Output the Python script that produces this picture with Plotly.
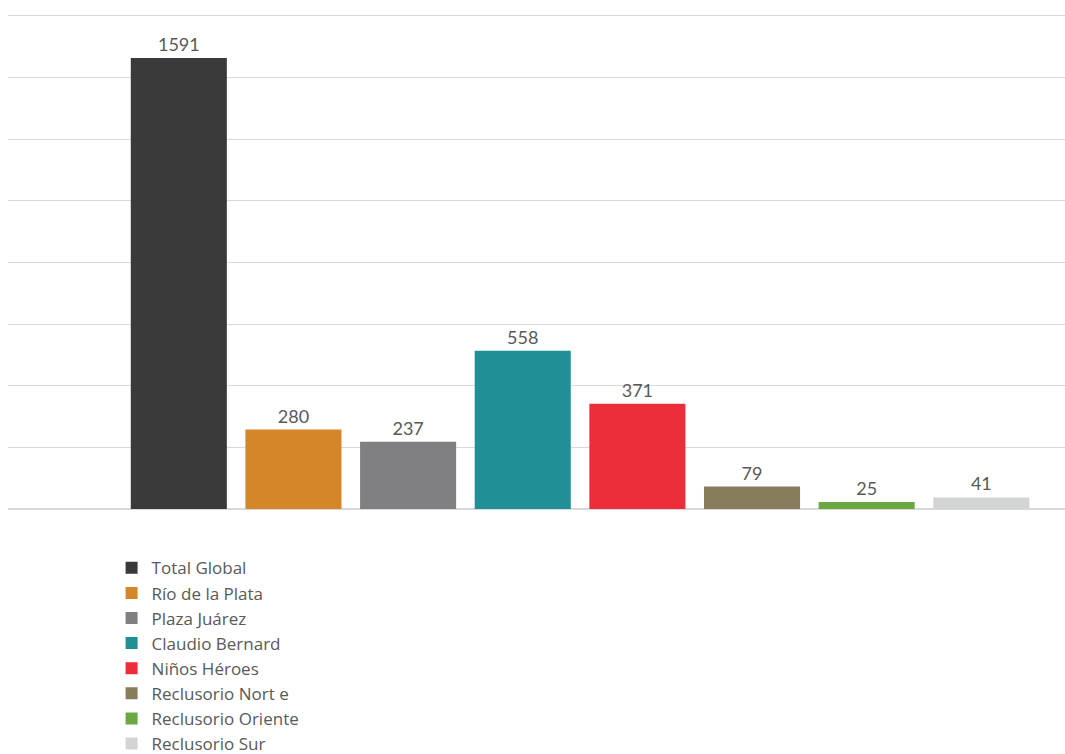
import plotly.graph_objects as go

series = ["Total Global", "Río de la Plata", "Plaza Juárez", "Claudio Bernard",
          "Niños Héroes", "Reclusorio Nort e", "Reclusorio Oriente", "Reclusorio Sur"]
values = [1591, 280, 237, 558, 371, 79, 25, 41]
colors = ["#3a3a3a", "#d58628", "#808083", "#1f9096",
          "#ec2e3a", "#877d5c", "#6aa842", "#d3d4d6"]

fig = go.Figure()
for name, v, c in zip(series, values, colors):
    fig.add_trace(go.Bar(
        x=[""], y=[v], name=name, marker=dict(color=c, line=dict(width=0)),
        text=[str(v)], textposition="outside", cliponaxis=False,
        textfont=dict(size=18, color="#595959", family="Lato"),
    ))

fig.update_layout(
    width=1065, height=754,
    margin=dict(l=8, r=0, t=12, b=245, autoexpand=False),
    paper_bgcolor="white", plot_bgcolor="white",
    barmode="group", bargap=0.2, bargroupgap=0.162,
    showlegend=True,
    legend=dict(
        x=0.098, y=-0.083, xanchor="left", yanchor="top",
        orientation="v", font=dict(size=17, color="#595959", family="Open Sans"),
        itemwidth=30, tracegroupgap=0,
    ),
    font=dict(family="Lato"),
)
fig.update_xaxes(type="category", range=[-0.499, 0.423], showticklabels=False,
                 showgrid=False, zeroline=False, showline=False)
fig.update_yaxes(range=[0, 1753], tickmode="array",
                 tickvals=[1739 / 8 * i for i in range(9)], showticklabels=False,
                 showgrid=True, gridcolor="#d9d9d9", gridwidth=1,
                 zeroline=True, zerolinecolor="#d9d9d9", showline=False)

fig.write_html(
    "out.html",
    config={"displayModeBar": False},
    post_script="document.body.style.margin='0';document.body.style.overflow='hidden';",
)
